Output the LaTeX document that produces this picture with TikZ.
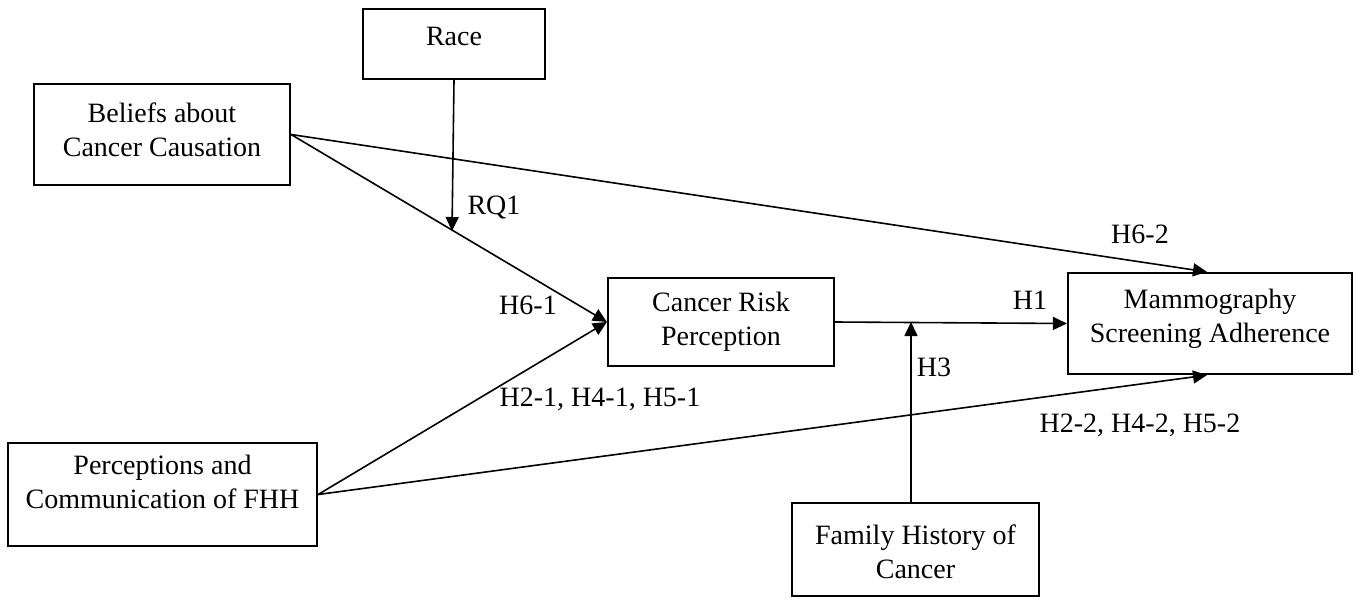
\documentclass[tikz,border=0pt]{standalone}
\usepackage{fontspec}
\setmainfont{Liberation Serif}
\usetikzlibrary{arrows.meta}
\tikzstyle{box}=[draw,line width=2.2pt,inner sep=0pt]
\tikzstyle{boxtext}=[align=center,font=\fontsize{28}{34}\selectfont,inner sep=0pt]
\tikzstyle{lbl}=[font=\fontsize{28}{34}\selectfont,inner sep=0pt]
\tikzstyle{link}=[draw,line width=1.6pt,-{Triangle[length=14pt,width=13pt]}]

\begin{document}
\begin{tikzpicture}[x=1pt,y=-1pt]
    \useasboundingbox (0,0) rectangle (1359,597);
    % First we draw the boxes, then their texts
    \foreach \pos/\w/\h/\name in {{(454,44)/182/70/race}, {(162,134.5)/256/101/beliefs}, {(721,322)/226/88/crp}, {(1210,323.5)/284/101/mam}, {(162.5,494.5)/309/103/fhh}, {(915.5,549.5)/247/93/fam}}
        \node[box,minimum width=\w pt,minimum height=\h pt] (\name) at \pos {};

    \node[boxtext] (race-t) at (454,36) {Race};
    \node[boxtext] (beliefs-t) at (162,130) {Beliefs about\\Cancer Causation};
    \node[boxtext] (crp-t) at (721,321.5) {Cancer Risk\\Perception};
    \node[boxtext] (mam-t) at (1210,319) {Mammography\\Screening Adherence};
    \node[boxtext] (fhh-t) at (162.5,482) {Perceptions and\\Communication of FHH};
    \node[boxtext] (fam-t) at (915.5,552) {Family History of\\Cancer};

    % Ports on the boxes, and points where the moderators meet a path
    \coordinate (mam-top) at ([xshift=-3pt]mam.north);
    \coordinate (mam-bot) at ([xshift=-3pt]mam.south);
    \coordinate (fam-top) at ([xshift=-4.5pt]fam.north);
    \coordinate (rq) at (452,231);
    \coordinate (h3) at (911,322);

    % Connect boxes with arrows
    \foreach \source/\dest in {beliefs.east/crp.west, fhh.east/crp.west, beliefs.east/mam-top, fhh.east/mam-bot, crp.east/mam.west, race.south/rq, fam-top/h3}
        \path[link] (\source) -- (\dest);

    % Path labels
    \node[lbl] (l-rq1) at (494,207) {RQ1};
    \node[lbl] (l-h61) at (528,305) {H6-1};
    \node[lbl] (l-h21) at (600,399) {H2-1, H4-1, H5-1};
    \node[lbl] (l-h62) at (1140,234) {H6-2};
    \node[lbl] (l-h1) at (1030,300) {H1};
    \node[lbl] (l-h3) at (934,367) {H3};
    \node[lbl] (l-h22) at (1140,425) {H2-2, H4-2, H5-2};
\end{tikzpicture}
\end{document}
